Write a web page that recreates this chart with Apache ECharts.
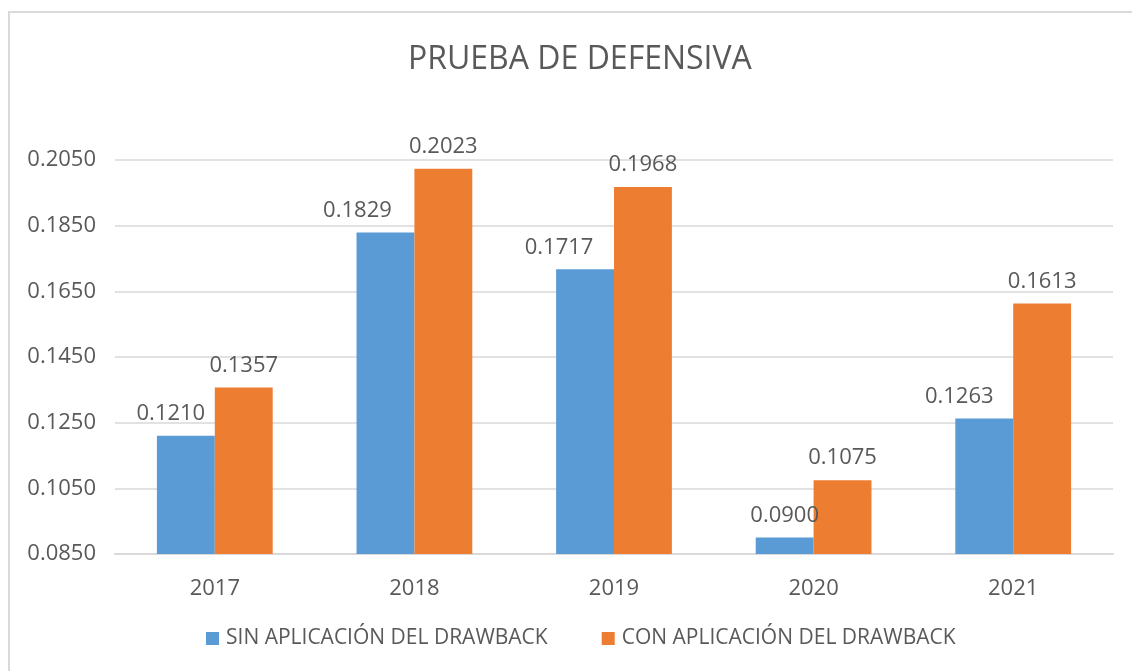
<!DOCTYPE html>
<html>
<head>
<meta charset="utf-8">
<script src="https://cdn.jsdelivr.net/npm/echarts@6/dist/echarts.min.js"></script>
<style>
  html, body { margin: 0; padding: 0; background: #fff; }
  #chart { width: 1132px; height: 671px; }
</style>
</head>
<body>
<div id="chart"></div>
<script>
const years = ["2017", "2018", "2019", "2020", "2021"];
const sinDrawback = [0.1210, 0.1829, 0.1717, 0.0900, 0.1263];
const conDrawback = [0.1357, 0.2023, 0.1968, 0.1075, 0.1613];
const seriesNames = ["SIN APLICACIÓN DEL DRAWBACK", "CON APLICACIÓN DEL DRAWBACK"];

// Excel pushed some blue labels left so they don't hit the orange ones
const blueLabelDx = [-15, -28, -26, 0, -25];

const chart = echarts.init(document.getElementById("chart"));
const font = "'Open Sans', 'DejaVu Sans', sans-serif";
const grey = "#595959";

const barLabel = {
  show: true,
  position: "top",
  distance: 11,
  color: grey,
  fontSize: 22,
  fontFamily: font,
  formatter: (p) => p.value.toFixed(4)
};

chart.setOption({
  animation: false,
  graphic: [
    {
      type: "rect",
      shape: { x: 9, y: 12, width: 1140, height: 680 },
      style: { fill: "none", stroke: "#d9d9d9", lineWidth: 2 }
    }
  ],
  title: {
    text: "PRUEBA DE DEFENSIVA",
    left: 403,
    top: 39,
    textStyle: { color: grey, fontSize: 32, fontWeight: "normal", fontFamily: font }
  },
  legend: {
    bottom: 17,
    left: 201,
    itemWidth: 13,
    itemHeight: 13,
    itemGap: 54,
    icon: "rect",
    textStyle: { color: grey, fontSize: 21, fontFamily: font, padding: [0, 0, 0, 2] },
    data: seriesNames
  },
  grid: { left: 115, right: 19, top: 160, bottom: 117 },
  xAxis: {
    type: "category",
    data: years,
    axisLine: { lineStyle: { color: "#d9d9d9", width: 2 } },
    axisTick: { show: false },
    axisLabel: { color: grey, fontSize: 22, fontFamily: font, margin: 24 }
  },
  yAxis: {
    type: "value",
    min: 0.085,
    max: 0.205,
    interval: 0.02,
    axisLine: { show: false },
    axisTick: { show: false },
    splitLine: { lineStyle: { color: "#d9d9d9", width: 1.5 } },
    axisLabel: {
      color: grey,
      fontSize: 22,
      fontFamily: font,
      margin: 19,
      formatter: (v) => v.toFixed(4)
    }
  },
  series: [
    {
      name: seriesNames[0],
      type: "bar",
      data: sinDrawback.map((v, i) => ({
        value: v,
        label: { offset: [blueLabelDx[i], 0] }
      })),
      barWidth: "29%",
      barGap: "0%",
      itemStyle: { color: "#5b9bd5" },
      label: barLabel
    },
    {
      name: seriesNames[1],
      type: "bar",
      data: conDrawback,
      barWidth: "29%",
      barGap: "0%",
      itemStyle: { color: "#ed7d31" },
      label: barLabel
    }
  ]
});
</script>
</body>
</html>
